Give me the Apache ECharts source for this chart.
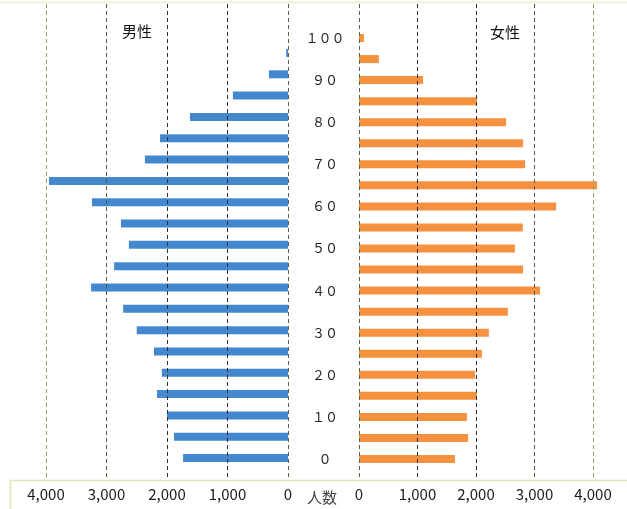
<!DOCTYPE html>
<html><head><meta charset="utf-8">
<script src="https://cdn.jsdelivr.net/npm/echarts@6/dist/echarts.min.js"></script>
<style>html,body{margin:0;padding:0;background:#fff}#c{width:627px;height:509px}</style>
</head><body><div id="c"></div><script>
// Age groups (5-year classes, bottom to top)
const ages = ['0','5','10','15','20','25','30','35','40','45','50','55','60','65','70','75','80','85','90','95','100'];
// 男性 (male) counts per age group
const male = [1735,1885,2000,2165,2085,2215,2500,2725,3255,2875,2630,2760,3240,3950,2365,2115,1620,910,315,30,0];
// 女性 (female) counts per age group
const female = [1640,1865,1845,2015,1985,2100,2220,2545,3095,2805,2665,2800,3370,4070,2840,2805,2515,2015,1095,340,85];
// Tick values of the population axis
const ticks = [0,1000,2000,3000,4000];
const titleMale = '男性';
const titleFemale = '女性';
const axisName = '人数';

const FONT = '"Noto Sans CJK JP", "Noto Sans", sans-serif';
const gridColors = ['#4f6a45','#2f2f2f','#2f2f2f','#4a5e3c','#8ea673'];
function fw(s){return String(s).replace(/[0-9]/g,d=>String.fromCharCode(d.charCodeAt(0)+0xFEE0));}
function fmt(v){return Number(v).toLocaleString('en-US');}

const chart = echarts.init(document.getElementById('c'), null, {renderer:'canvas'});

// bar axes span a little beyond the last tick so that values above 4,000 are not clipped
const barMax = 4100;

const gridAxis = (inverse) => ({
  type:'value', min:ticks[0], max:ticks[ticks.length-1], interval:ticks[1]-ticks[0],
  inverse: inverse, position:'bottom', z:3,
  axisLine:{show:false}, axisTick:{show:false},
  axisLabel:{show:true, margin:7, color:'#1a1a1a', fontSize:15, fontFamily:FONT, formatter:fmt},
  splitLine:{show:true, lineStyle:{color:gridColors, width:1, type:[4,3]}}
});
const hiddenX = (inverse) => ({
  type:'value', min:0, max:barMax, inverse:inverse,
  show:false, splitLine:{show:false}
});

const option = {
  animation:false,
  backgroundColor:'#ffffff',
  grid:[
    {left:39.95, right:339, top:21, bottom:40.3},
    {left:359, right:28.15, top:27.5, bottom:39.5},
    {left:46, right:339, top:4, bottom:29},
    {left:359, right:34, top:4, bottom:29}
  ],
  xAxis:[
    Object.assign(hiddenX(true),{gridIndex:0}),
    Object.assign(hiddenX(false),{gridIndex:1}),
    Object.assign(gridAxis(true),{gridIndex:2}),
    Object.assign(gridAxis(false),{gridIndex:3})
  ],
  yAxis:[
    {gridIndex:0, type:'category', data:ages, show:false},
    {gridIndex:1, type:'category', data:ages, z:4,
      axisLine:{show:false}, axisTick:{show:false}, splitLine:{show:false},
      axisLabel:{show:true, align:'center', margin:34, fontSize:13, color:'#222', fontFamily:FONT,
        interval:(i,v)=>Number(v)%10===0, formatter:(v)=>fw(v)}},
    {gridIndex:2, type:'value', show:false, splitLine:{show:false}},
    {gridIndex:3, type:'value', show:false, splitLine:{show:false}}
  ],
  series:[
    {type:'bar', name:titleMale, xAxisIndex:0, yAxisIndex:0, data:male, barWidth:8,
      itemStyle:{color:'#4488d0'}, silent:true, z:2},
    {type:'bar', name:titleFemale, xAxisIndex:1, yAxisIndex:1, data:female, barWidth:8,
      itemStyle:{color:'#f6923f'}, silent:true, z:2}
  ],
  graphic:[
    {type:'line', shape:{x1:0,y1:2.5,x2:627,y2:2.5}, style:{stroke:'#eef1d6', lineWidth:2}, silent:true},
    {type:'rect', shape:{x:10.5,y:480.5,width:640,height:60}, style:{fill:'none', stroke:'#dde6b4', lineWidth:1.5}, silent:true, z:-1},
    {type:'text', x:137, y:31, style:{text:titleMale, font:'15px '+FONT, fill:'#111', align:'center', verticalAlign:'middle'}},
    {type:'text', x:505, y:32, style:{text:titleFemale, font:'15px '+FONT, fill:'#111', align:'center', verticalAlign:'middle'}},
    {type:'text', x:322, y:497, style:{text:axisName, font:'15px '+FONT, fill:'#444', align:'center', verticalAlign:'middle'}}
  ]
};
chart.setOption(option);
</script></body></html>
